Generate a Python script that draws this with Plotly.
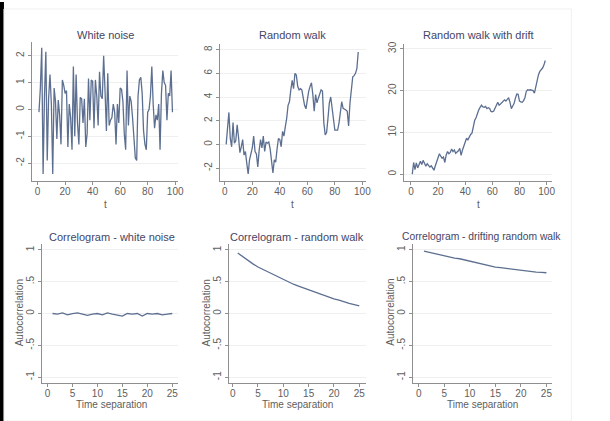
import plotly.graph_objects as go

# ---------------- data ----------------
white_noise = [-0.1, 0.8, 2.3, -2.4, 0.5, 2.15, -1.9, 0.4, 1.3, 0.2,
               -2.4, 0.8, 0.3, -1.1, 0.35, -0.2, -1.3, 1.1, 0.9, 0.6,
               0.7, -1.4, 0.2, -0.3, -1.5, 1.6, -1.0, 1.3, -0.5, -1.3,
               0.45, 0.4, -0.5, 0.4, -1.4, -0.9, 1.15, -0.4, 1.1, 1.05,
               -0.7, 1.1, 0.5, -0.6, 1.4, 0.5, 0.4, 2.0, 0.7, -0.8,
               1.35, -0.6, -0.4, -0.3, 0.2, -0.1, -1.3, 0.2, -0.5, 0.8,
               0.75, 0.3, -0.9, -1.5, 1.45, -0.6, 0.5, 0.3, -0.3, -1.0,
               -1.8, -1.9, 0.5, 1.1, 1.2, 0.6, -0.8, -1.3, -1.5, -0.1,
               0.0, 0.5, 1.6, 0.2, -0.7, -0.2, -0.4, 0.2, -1.5, 0.6,
               1.45, 1.0, 0.9, -0.4, 0.6, 0.5, 1.45, -0.1]

random_walk = [0.0, 1.2, 2.7, 0.5, -0.2, 1.85, 0.1, 0.3, 1.65, 0.6,
               -0.7, -0.2, 0.4, -0.9, -0.6, -1.6, -2.5, -1.3, -0.8, -0.3,
               0.7, -0.6, -0.8, -1.9, -0.5, 0.4, -0.3, 0.7, -0.6, 0.2,
               0.1, 0.2, -0.4, -1.2, -2.4, -1.3, -1.5, -0.4, 0.5, 0.4,
               -0.2, 1.1, 0.7, 1.5, 2.2, 3.3, 3.6, 4.6, 5.4, 4.7,
               6.0, 5.85, 4.9, 4.6, 4.7, 4.6, 3.8, 3.3, 3.0, 3.8,
               4.5, 4.9, 5.2, 4.2, 2.8, 4.2, 3.5, 3.9, 4.2, 4.6,
               4.5, 1.8, 0.8, 1.0, 2.2, 3.5, 4.0, 3.2, 2.35, 1.2,
               1.2, 1.2, 1.8, 3.0, 3.6, 3.05, 3.0, 2.9, 2.8, 1.55,
               3.5, 4.9, 5.7, 5.8, 6.0, 6.4, 7.8]

drift_walk = [0.0, 2.8, 1.1, 2.7, 1.5, 2.4, 3.1, 2.3, 3.3, 2.6,
              1.9, 2.5, 2.1, 1.7, 2.0, 1.5, 0.95, 2.0, 3.1, 3.9,
              4.9, 4.3, 3.8, 4.1, 2.8, 4.6, 5.4, 4.9, 5.2, 6.0,
              5.4, 5.8, 5.0, 5.3, 5.6, 6.2, 4.5, 5.8, 6.8, 8.0,
              8.6, 8.2, 8.9, 9.5, 9.8, 11.3, 12.9, 13.5, 14.6, 15.4,
              16.0, 16.5, 16.1, 16.0, 16.2, 15.7, 15.9, 15.7, 15.0, 14.9,
              15.1, 16.0, 16.5, 17.2, 16.5, 16.8, 17.2, 17.5, 17.8, 17.5,
              17.9, 18.3, 17.2, 15.7, 16.3, 16.9, 18.2, 19.2, 19.1, 17.5,
              17.3, 17.2, 17.6, 18.3, 19.8, 20.2, 20.1, 20.2, 20.1, 20.0,
              19.4, 21.0, 22.4, 23.8, 24.6, 25.0, 25.4, 26.1, 27.2]

lags = list(range(1, 26))
acf_white = [0.0, -0.01, 0.01, -0.02, 0.0, 0.01, -0.01, -0.03, -0.01, 0.0,
             -0.02, 0.01, -0.01, -0.02, -0.04, 0.0, -0.01, 0.0, -0.04, 0.0,
             -0.01, 0.0, -0.02, -0.01, 0.0]
acf_rw = [0.95, 0.89, 0.83, 0.78, 0.73, 0.69, 0.65, 0.61, 0.57, 0.53,
          0.50, 0.46, 0.43, 0.40, 0.37, 0.34, 0.31, 0.28, 0.26, 0.23,
          0.21, 0.18, 0.16, 0.14, 0.12]
acf_drift = [0.98, 0.96, 0.94, 0.925, 0.91, 0.89, 0.87, 0.86, 0.84, 0.82,
             0.80, 0.78, 0.77, 0.75, 0.73, 0.72, 0.71, 0.69, 0.68, 0.67,
             0.66, 0.655, 0.65, 0.645, 0.64]

titles = ["White noise", "Random walk", "Random walk with drift",
          "Correlogram - white noise", "Correlogram - random walk",
          "Correlogram - drifting random walk"]

t_ticks = [0, 20, 40, 60, 80, 100]
lag_ticks = [0, 5, 10, 15, 20, 25]
wn_ticks = [-2, -1, 0, 1, 2]
rw_ticks = [-2, 0, 2, 4, 6, 8]
dr_ticks = [0, 10, 20, 30]
acf_ticks = [-1, -0.5, 0, 0.5, 1]
acf_ticktext = ["-1", "-.5", "0", ".5", "1"]

# ---------------- layout helpers ----------------
W, H = 610, 421
LINE = "#5d6f90"
AX = "#8f8f8f"
TXT = "#5e5e5e"
TITLE = "#454566"
FONT = "Liberation Sans, Arial, sans-serif"


def px_x(p):
    return p / W


def px_y(p):
    return 1 - p / H


fig = go.Figure()

series = [
    (list(range(1, len(white_noise) + 1)), white_noise),
    (list(range(1, len(random_walk) + 1)), random_walk),
    (list(range(1, len(drift_walk) + 1)), drift_walk),
    (lags, acf_white),
    (lags, acf_rw),
    (lags, acf_drift),
]

for i, (xs, ys) in enumerate(series):
    n = "" if i == 0 else str(i + 1)
    fig.add_trace(go.Scatter(x=xs, y=ys, mode="lines",
                             line=dict(color=LINE, width=1.3),
                             xaxis="x" + n, yaxis="y" + n,
                             showlegend=False, hoverinfo="skip"))

# panel pixel geometry: (x_left, x_right, y_top, y_bottom)
geom = [
    (32, 180, 40, 180),
    (222, 370, 42, 180),
    (408, 557, 42, 180),
    (42, 180, 243, 383),
    (231, 370, 243, 383),
    (417, 557, 243, 383),
]
xranges = [[-4.3, 102.2], [-3.6, 102.9], [-5.1, 103.6],
           [-1.19, 26.2], [-0.78, 26.4], [-1.16, 26.0]]
yranges = [[-2.67, 2.52], [-3.1, 8.49], [-1.67, 31.2],
           [-1.094, 1.094], [-1.094, 1.094], [-1.094, 1.094]]
xticks = [t_ticks, t_ticks, t_ticks, lag_ticks, lag_ticks, lag_ticks]
yticks = [wn_ticks, rw_ticks, dr_ticks, acf_ticks, acf_ticks, acf_ticks]
ytext = [[str(v) for v in wn_ticks], [str(v) for v in rw_ticks],
         [str(v) for v in dr_ticks], acf_ticktext, acf_ticktext, acf_ticktext]

layout = dict(
    width=W, height=H,
    margin=dict(l=0, r=0, t=0, b=0),
    paper_bgcolor="white", plot_bgcolor="white",
    font=dict(family=FONT, color=TXT, size=9),
    showlegend=False,
)

for i in range(6):
    n = "" if i == 0 else str(i + 1)
    xl, xr, yt, yb = geom[i]
    layout["xaxis" + n] = dict(
        domain=[px_x(xl), px_x(xr)], range=xranges[i], anchor="y" + n,
        tickvals=xticks[i], ticks="outside", ticklen=3, tickcolor=AX,
        showline=True, linecolor=AX, linewidth=1, showgrid=False,
        zeroline=False, tickfont=dict(size=10, color=TXT, family=FONT),
        ticklabelstandoff=-2,
    )
    layout["yaxis" + n] = dict(
        domain=[px_y(yb), px_y(yt)], range=yranges[i], anchor="x" + n,
        tickvals=yticks[i], ticktext=ytext[i], tickangle=-90,
        ticks="outside", ticklen=3, tickcolor=AX,
        showline=True, linecolor=AX, linewidth=1,
        showgrid=True, gridcolor="#efefef", gridwidth=1,
        zeroline=False, tickfont=dict(size=10, color=TXT, family=FONT),
    )

fig.update_layout(**layout)

# titles
title_pos = [(107, 33), (295, 33), (483, 33), (113, 236), (300, 236), (486, 236)]
title_size = [11, 11, 11, 11, 11, 10.3]
for (x, y), s, txt in zip(title_pos, title_size, titles):
    fig.add_annotation(x=px_x(x), y=px_y(y), xref="paper", yref="paper",
                       text=txt, showarrow=False, xanchor="center",
                       yanchor="middle", font=dict(size=s, color=TITLE, family=FONT))

# x-axis titles
for x, y, txt in [(107, 203, "t"), (295, 203, "t"), (483, 203, "t"),
                  (113, 404, "Time separation"), (300, 404, "Time separation"),
                  (487, 404, "Time separation")]:
    fig.add_annotation(x=px_x(x), y=px_y(y), xref="paper", yref="paper",
                       text=txt, showarrow=False, xanchor="center",
                       yanchor="middle", font=dict(size=10, color=TXT, family=FONT))

# y-axis titles
for x in [20, 209, 394]:
    fig.add_annotation(x=px_x(x), y=px_y(312), xref="paper", yref="paper",
                       text="Autocorrelation", showarrow=False, textangle=-90,
                       xanchor="center", yanchor="middle",
                       font=dict(size=10, color=TXT, family=FONT))

# slide frame: left black edge and faint outer box
fig.add_shape(type="rect", xref="paper", yref="paper",
              x0=0, x1=px_x(4), y0=0, y1=1, fillcolor="black", line_width=0)
fig.add_shape(type="rect", xref="paper", yref="paper",
              x0=px_x(4), x1=px_x(577), y0=px_y(421), y1=px_y(7),
              line=dict(color="#f0f0f0", width=1), fillcolor="rgba(0,0,0,0)")

fig.write_html("out.html",
               config={"displayModeBar": False},
               post_script="document.body.style.margin='0';"
                           "document.body.style.padding='0';"
                           "document.body.style.overflow='hidden';")
